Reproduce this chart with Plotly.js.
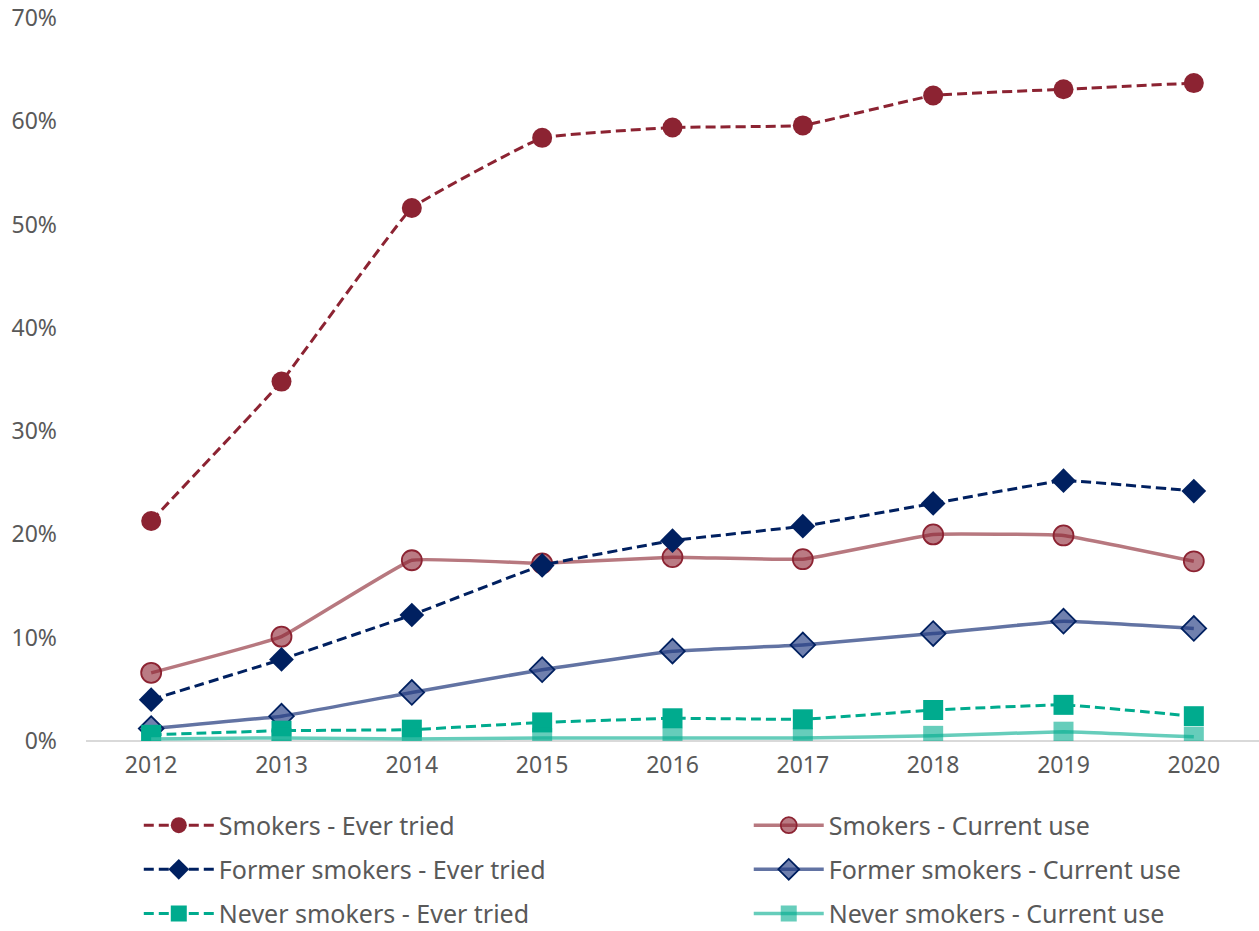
<!DOCTYPE html>
<html><head><meta charset="utf-8">
<script src="https://cdn.plot.ly/plotly-3.0.1.min.js"></script>
<style>html,body{margin:0;padding:0;background:#fff}</style>
</head><body>
<div id="chart" style="width:1259px;height:931px"></div>
<script>
var years = ['2012','2013','2014','2015','2016','2017','2018','2019','2020'];
var smokersEver = [21.3, 34.8, 51.6, 58.4, 59.4, 59.6, 62.5, 63.1, 63.7];
var smokersCurrent = [6.6, 10.1, 17.5, 17.2, 17.8, 17.6, 20.0, 19.9, 17.4];
var formerEver = [4.0, 7.9, 12.2, 17.0, 19.4, 20.8, 23.0, 25.2, 24.2];
var formerCurrent = [1.2, 2.4, 4.7, 6.9, 8.7, 9.3, 10.4, 11.6, 10.9];
var neverEver = [0.6, 1.0, 1.1, 1.8, 2.2, 2.1, 3.0, 3.5, 2.4];
var neverCurrent = [0.2, 0.3, 0.2, 0.3, 0.3, 0.3, 0.5, 0.9, 0.4];
var yTicks = [0, 10, 20, 30, 40, 50, 60, 70];

var dashPat = '10px,5px';
function tr(name, y, lg, lineColor, dash, symbol, size, fill, border, bw){
  return {x: years, y: y, name: name, legend: lg, type: 'scatter', mode: 'lines+markers',
    line: {color: lineColor, width: dash ? 3 : 3.5, dash: dash || 'solid', shape: 'spline', smoothing: 0.25},
    marker: {symbol: symbol, size: size, color: fill, line: {color: border, width: bw}},
    hoverinfo: 'skip'};
}
var data = [
  tr('Smokers - Ever tried', smokersEver, 'legend', '#8C2332', dashPat, 'circle', 20, '#8C2332', '#8C2332', 0),
  tr('Smokers - Current use', smokersCurrent, 'legend2', '#B7787F', null, 'circle', 20, 'rgba(140,35,50,0.6)', '#8C2332', 1.8),
  tr('Former smokers - Ever tried', formerEver, 'legend3', '#002060', dashPat, 'diamond', 19, '#002060', '#002060', 0),
  tr('Former smokers - Current use', formerCurrent, 'legend4', '#6273A3', null, 'diamond', 19, 'rgba(35,60,130,0.65)', '#002060', 1.8),
  tr('Never smokers - Ever tried', neverEver, 'legend5', '#00AB8E', dashPat, 'square', 20, '#00AB8E', '#00AB8E', 0),
  tr('Never smokers - Current use', neverCurrent, 'legend6', '#66CDBB', null, 'square', 20, 'rgba(0,171,142,0.6)', 'rgba(0,171,142,0.6)', 0)
];
var font = 'Noto Sans, Open Sans, sans-serif';
function leg(x, y){
  return {orientation: 'v', x: x, xanchor: 'left', y: y, yanchor: 'top',
    itemwidth: 70, tracegroupgap: 0,
    font: {family: font, size: 25, color: '#595959'}, bgcolor: 'rgba(0,0,0,0)'};
}
var c1 = 0.045, c2 = 0.565, r1 = -0.085, r2 = -0.146, r3 = -0.207;
var layout = {
  width: 1259, height: 931,
  margin: {l: 86, r: 0, t: 18, b: 190, autoexpand: false},
  paper_bgcolor: '#fff', plot_bgcolor: '#fff',
  font: {family: font, color: '#595959', size: 23},
  showlegend: true,
  xaxis: {type: 'category', range: [-0.5, 8.5], showgrid: false, zeroline: false,
    showline: false, ticks: '', ticklabelstandoff: 8,
    tickfont: {family: font, size: 23, color: '#595959'}},
  yaxis: {range: [0, 70], tickvals: yTicks, ticktext: yTicks.map(function(v){return v + '%';}),
    showgrid: false, zeroline: true, zerolinecolor: '#D9D9D9', zerolinewidth: 2,
    showline: false, ticks: '', ticklabelstandoff: 28,
    tickfont: {family: font, size: 23, color: '#595959'}},
  legend: leg(c1, r1), legend2: leg(c2, r1),
  legend3: leg(c1, r2), legend4: leg(c2, r2),
  legend5: leg(c1, r3), legend6: leg(c2, r3)
};
Plotly.newPlot('chart', data, layout, {displayModeBar: false, staticPlot: true});
</script>
</body></html>
